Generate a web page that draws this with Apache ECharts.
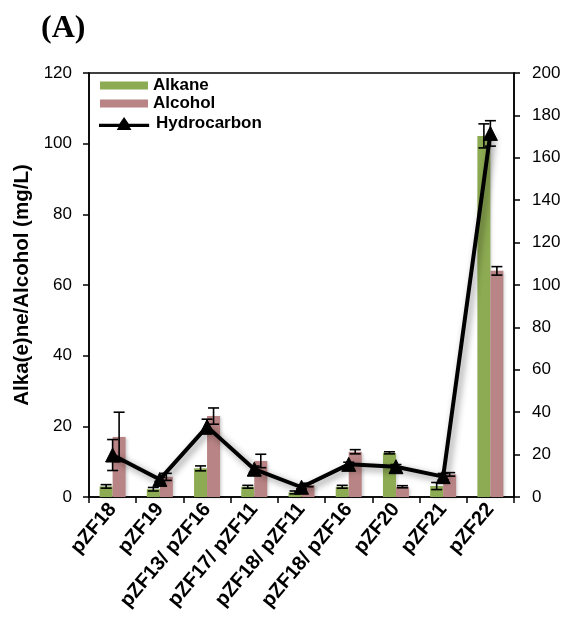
<!DOCTYPE html>
<html>
<head>
<meta charset="utf-8">
<script src="https://cdn.jsdelivr.net/npm/echarts@6/dist/echarts.min.js"></script>
<style>
  html, body { margin: 0; padding: 0; background: #fff; }
  #chart { width: 572px; height: 628px; }
</style>
</head>
<body>
<div id="chart"></div>
<script>
// Strains / strain combinations
const categories = ['pZF18', 'pZF19', 'pZF13/ pZF16', 'pZF17/ pZF11', 'pZF18/ pZF11',
                    'pZF18/ pZF16', 'pZF20', 'pZF21', 'pZF22'];

// Titres (mg/L), left axis
const alkane      = [3.0, 2.2, 8.1, 2.9, 1.3, 2.9, 12.5, 3.1, 102.2];
const alkaneErr   = [0.5, 0.5, 0.7, 0.4, 0.4, 0.4, 0.3, 1.0, 3.4];
const alcohol     = [17.0, 5.7, 22.9, 10.2, 3.4, 12.8, 2.9, 6.4, 64.0];
const alcoholErr  = [7.0, 1.0, 2.3, 1.9, 0.5, 0.6, 0.3, 0.5, 1.2];

// Total hydrocarbon (mg/L), right axis
const hydrocarbon    = [19.8, 8.3, 33.2, 13.1, 4.6, 15.4, 14.3, 9.6, 171.5];
const hydrocarbonErr = [7.3, 1.0, 3.5, 1.5, 0.8, 1.0, 1.0, 1.5, 6.0];

// Axis ticks
const leftTicks  = { min: 0, max: 120, interval: 20 };
const rightTicks = { min: 0, max: 200, interval: 20 };

const BAR_W = 13;
const FONT = 'Liberation Sans, Arial, sans-serif';

// Legend glyph for the hydrocarbon line: a bar with a triangle marker in the middle
const LINE_ICON = 'path://M0,7.2L22,7.2L27,0L32,7.2L54,7.2L54,10.8L33,10.8L35,14L19,14L21,10.8L0,10.8Z';

function errorSeries(name, values, errs, yAxisIndex, offset) {
  return {
    name: name,
    type: 'custom',
    yAxisIndex: yAxisIndex,
    z: 5,
    silent: true,
    data: values.map((v, i) => [i, v, errs[i]]),
    renderItem: function (params, api) {
      const i = api.value(0), v = api.value(1), e = api.value(2);
      const hi = api.coord([i, v + e]);
      const lo = api.coord([i, v - e]);
      const x = hi[0] + offset;
      const cap = 5.5;
      const st = { stroke: '#000', lineWidth: 1.6 };
      return {
        type: 'group',
        children: [
          { type: 'line', shape: { x1: x, y1: hi[1], x2: x, y2: lo[1] }, style: st },
          { type: 'line', shape: { x1: x - cap, y1: hi[1], x2: x + cap, y2: hi[1] }, style: st },
          { type: 'line', shape: { x1: x - cap, y1: lo[1], x2: x + cap, y2: lo[1] }, style: st }
        ]
      };
    }
  };
}

const chart = echarts.init(document.getElementById('chart'), null, { renderer: 'canvas' });

chart.setOption({
  backgroundColor: '#fff',
  animation: false,
  title: {
    text: '(A)',
    left: 36, top: 8,
    textStyle: { fontFamily: 'Liberation Serif, Times New Roman, serif', fontWeight: 'bold', fontSize: 32, color: '#000' }
  },
  legend: [
    {
      orient: 'vertical',
      left: 95, top: 72,
      itemWidth: 48, itemHeight: 8, itemGap: 1,
      textStyle: { fontFamily: FONT, fontWeight: 'bold', fontSize: 17, color: '#000' },
      data: [
        { name: 'Alkane', icon: 'rect' },
        { name: 'Alcohol', icon: 'rect' }
      ]
    },
    {
      orient: 'vertical',
      left: 94, top: 110,
      itemWidth: 54, itemHeight: 13,
      textStyle: { fontFamily: FONT, fontWeight: 'bold', fontSize: 17, color: '#000' },
      data: [
        { name: 'Hydrocarbon', icon: LINE_ICON, itemStyle: { color: '#000' } }
      ]
    }
  ],
  grid: {
    left: 89, right: 58, top: 73, bottom: 131,
    show: true, borderColor: '#000', borderWidth: 1.5, backgroundColor: 'transparent'
  },
  xAxis: {
    type: 'category',
    data: categories,
    boundaryGap: true,
    axisLine: { lineStyle: { color: '#000', width: 1.5 } },
    axisTick: { show: true, alignWithLabel: false, length: 6, lineStyle: { color: '#000', width: 1.5 } },
    axisLabel: {
      interval: 0, rotate: 50, margin: 9,
      fontFamily: FONT, fontWeight: 'bold', fontSize: 20, color: '#000'
    }
  },
  yAxis: [
    {
      type: 'value',
      min: leftTicks.min, max: leftTicks.max, interval: leftTicks.interval,
      name: 'Alka(e)ne/Alcohol (mg/L)',
      nameLocation: 'middle', nameGap: 47, nameRotate: 90,
      nameTextStyle: { fontFamily: FONT, fontWeight: 'bold', fontSize: 20.5, color: '#000' },
      axisLine: { show: true, lineStyle: { color: '#000', width: 1.5 } },
      axisTick: { show: true, length: 6, lineStyle: { color: '#000', width: 1.5 } },
      axisLabel: { margin: 17, fontFamily: FONT, fontSize: 17, color: '#000' },
      splitLine: { show: false }
    },
    {
      type: 'value',
      position: 'right',
      min: rightTicks.min, max: rightTicks.max, interval: rightTicks.interval,
      axisLine: { show: true, lineStyle: { color: '#000', width: 1.5 } },
      axisTick: { show: true, length: 6, lineStyle: { color: '#000', width: 1.5 } },
      axisLabel: { margin: 18, fontFamily: FONT, fontSize: 17, color: '#000' },
      splitLine: { show: false }
    }
  ],
  series: [
    {
      name: 'Alkane', type: 'bar', yAxisIndex: 0,
      barWidth: BAR_W, barGap: '0%',
      data: alkane,
      itemStyle: { color: '#8dab52', shadowColor: 'rgba(0,0,0,0.18)', shadowBlur: 3, shadowOffsetX: 2, shadowOffsetY: 1 }
    },
    {
      name: 'Alcohol', type: 'bar', yAxisIndex: 0,
      barWidth: BAR_W, barGap: '0%',
      data: alcohol,
      itemStyle: { color: '#b98485', shadowColor: 'rgba(0,0,0,0.18)', shadowBlur: 3, shadowOffsetX: 2, shadowOffsetY: 1 }
    },
    errorSeries('Alkane error', alkane, alkaneErr, 0, -BAR_W / 2),
    errorSeries('Alcohol error', alcohol, alcoholErr, 0, BAR_W / 2),
    errorSeries('Hydrocarbon error', hydrocarbon, hydrocarbonErr, 1, 0),
    {
      name: 'Hydrocarbon', type: 'line', yAxisIndex: 1, z: 6,
      data: hydrocarbon,
      symbol: 'triangle', symbolSize: 14,
      lineStyle: { color: '#000', width: 4, shadowColor: 'rgba(0,0,0,0.45)', shadowBlur: 7, shadowOffsetX: 3, shadowOffsetY: 3 },
      itemStyle: { color: '#000', borderColor: '#000' }
    }
  ]
});
</script>
</body>
</html>
